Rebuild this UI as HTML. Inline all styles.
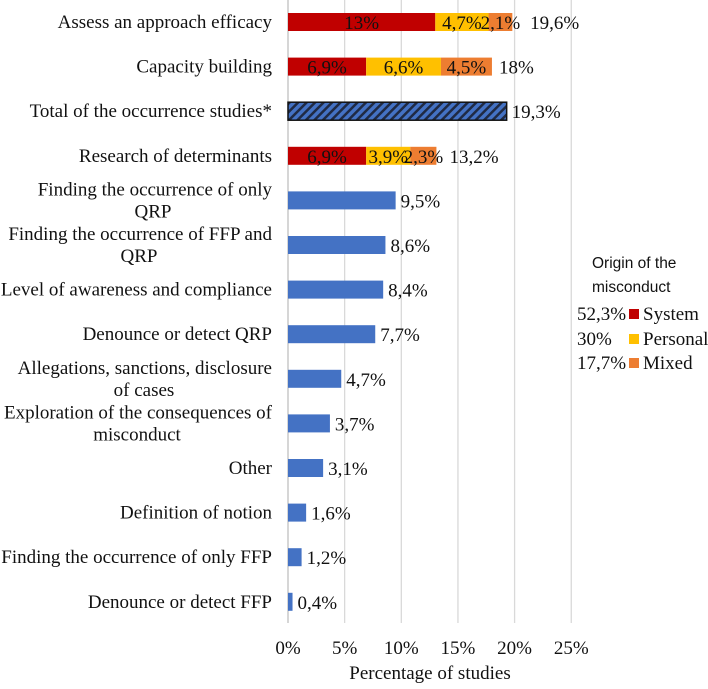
<!DOCTYPE html>
<html><head><meta charset="utf-8"><style>
body{margin:0;background:#fff;}
svg text{font-family:"Liberation Serif",serif;fill:#111;}
</style></head><body>
<svg id="chart" width="708" height="684" xmlns="http://www.w3.org/2000/svg">
<defs><pattern id="hatch" patternUnits="userSpaceOnUse" width="6" height="6" patternTransform="rotate(45)">
<rect width="6" height="6" fill="#4472C4"/><rect width="2.5" height="6" fill="#1F2A44"/></pattern></defs>
<g id="grid"></g><g id="bars"></g><g id="labels"></g>
<g id="legend">
<text x="592" y="268" font-size="15.5" style="font-family:'Liberation Sans',sans-serif">Origin of the</text>
<text x="592" y="292" font-size="15.5" style="font-family:'Liberation Sans',sans-serif">misconduct</text>
<g><text x="577" y="320" font-size="19">52,3%</text><rect x="629" y="309" width="10" height="10" fill="#C00000"/><text x="643" y="320" font-size="19">System</text></g>
<g><text x="577" y="345" font-size="19">30%</text><rect x="629" y="334" width="10" height="10" fill="#FFC000"/><text x="643" y="345" font-size="19">Personal</text></g>
<g><text x="577" y="369" font-size="19">17,7%</text><rect x="629" y="358" width="10" height="10" fill="#ED7D31"/><text x="643" y="369" font-size="19">Mixed</text></g>
</g>
<text x="430" y="679" text-anchor="middle" font-size="19">Percentage of studies</text>
</svg>
<script>
const categories=[["Assess an approach efficacy"],["Capacity building"],["Total of the occurrence studies*"],["Research of determinants"],["Finding the occurrence of only","QRP"],["Finding the occurrence of FFP and","QRP"],["Level of awareness and compliance"],["Denounce or detect QRP"],["Allegations, sanctions, disclosure","of cases"],["Exploration of the consequences of","misconduct"],["Other"],["Definition of notion"],["Finding the occurrence of only FFP"],["Denounce or detect FFP"]];
const systemVals=[13,6.9,0,6.9,0,0,0,0,0,0,0,0,0,0];
const personalVals=[4.7,6.6,0,3.9,0,0,0,0,0,0,0,0,0,0];
const mixedVals=[2.1,4.5,0,2.3,0,0,0,0,0,0,0,0,0,0];
const totalVals=[19.6,18,19.3,13.2,9.5,8.6,8.4,7.7,4.7,3.7,3.1,1.6,1.2,0.4];
const totalLabels=["19,6%","18%","19,3%","13,2%","9,5%","8,6%","8,4%","7,7%","4,7%","3,7%","3,1%","1,6%","1,2%","0,4%"];
const segLabels=[["13%","4,7%","2,1%"],["6,9%","6,6%","4,5%"],null,["6,9%","3,9%","2,3%"]];
const ticks=[0,5,10,15,20,25];
const tickLabels=["0%","5%","10%","15%","20%","25%"];
const NS="http://www.w3.org/2000/svg";
const x=v=>288+v*11.33;
const y=i=>22+i*44.6;
const H=18;
function mk(t,a,p){const e=document.createElementNS(NS,t);for(const k in a)e.setAttribute(k,a[k]);p.appendChild(e);return e;}
const G=document.getElementById('grid'),B=document.getElementById('bars'),L=document.getElementById('labels');
ticks.forEach((t,i)=>{
 const l=mk('line',{x1:x(t),x2:x(t),y1:0,y2:623,stroke:i==0?'#bfbfbf':'#d9d9d9','stroke-width':1.3},G);
 
 
 const tx=mk('text',{x:x(t),y:654,'text-anchor':'middle','font-size':19},G);tx.textContent=tickLabels[i];
 
 
});
const centers={4:153,5:139,8:144,9:137};
categories.forEach((c,i)=>{
 const cy=y(i);
 const lines=c;
 lines.forEach((s,j)=>{
  const two=lines.length>1;
  const t=mk('text',{x:two&&j==1?centers[i]:272,y:cy+6+(two?(j==0?-11:11):0),'text-anchor':two&&j==1?'middle':'end','font-size':19},L);
  t.textContent=s;
  
  
 });
 if(systemVals[i]>0){
  const vals=[systemVals[i],personalVals[i],mixedVals[i]],cols=['#C00000','#FFC000','#ED7D31'];let acc=0;
  vals.forEach((v,k)=>{
   const r=mk('rect',{x:x(acc),y:cy-H/2,width:x(acc+v)-x(acc),height:H,fill:cols[k]},B);
   
   
   const t=mk('text',{x:(x(acc)+x(acc+v))/2,y:cy+7,'text-anchor':'middle','font-size':19},L);t.textContent=segLabels[i][k];
   
   
   acc+=v;
  });
 } else {
  const r=mk('rect',{x:x(0),y:cy-H/2,width:x(totalVals[i])-x(0),height:H,fill:i==2?'url(#hatch)':'#4472C4',stroke:i==2?'#111':'none','stroke-width':1.5},B);
  
  
 }
 const off=i==0?20:(i==3?12:(i==1?7:5));
 const t=mk('text',{x:x(totalVals[i])+off,y:cy+7,'font-size':19},L);
 t.textContent=totalLabels[i];
 
 
});
</script>
</body></html>
